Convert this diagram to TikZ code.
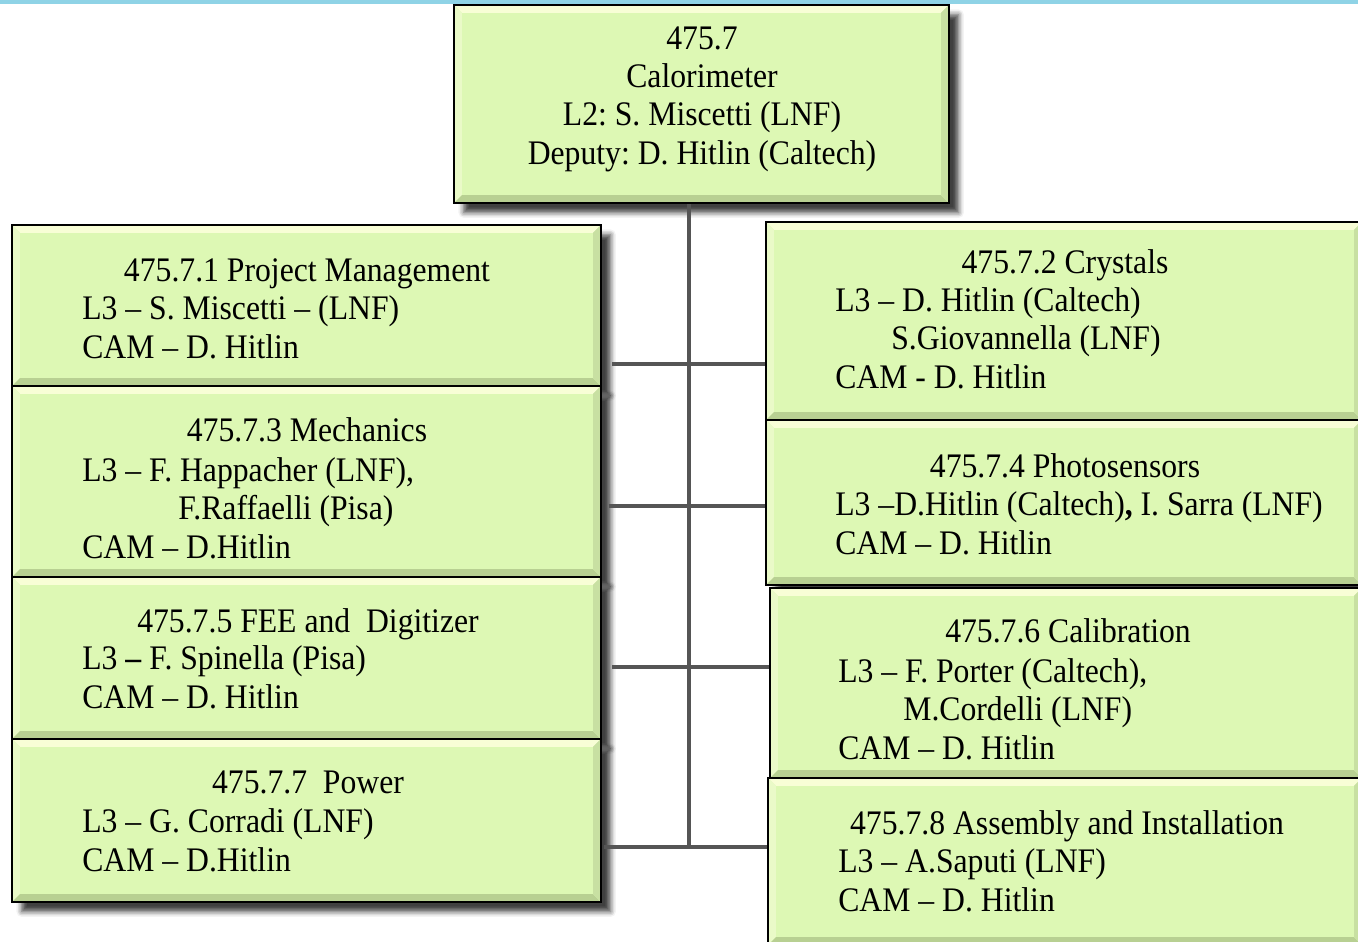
\documentclass[tikz,border=0pt]{standalone}
\usepackage{fontspec}
\setmainfont{Liberation Serif}[FakeStretch=0.92]
\usepackage{xcolor}
\usepackage{tikz}
\usetikzlibrary{shadows.blur}
\definecolor{wbsgreen}{RGB}{221,248,180}
\definecolor{bevlight}{RGB}{248,254,214}
\definecolor{bevleft}{RGB}{234,250,200}
\definecolor{bevdark}{RGB}{184,208,146}
\definecolor{bevright}{RGB}{200,224,162}
\definecolor{spinegray}{RGB}{85,85,85}
\definecolor{topblue}{RGB}{143,211,230}
\newcommand\wbsfont{\fontsize{19.6}{21.8}\selectfont}
\frenchspacing

\begin{document}
\begin{tikzpicture}[x=0.02cm,y=-0.02cm,font=\wbsfont,
  wbsbox/.style={draw=black,line width=1.6pt,fill=wbsgreen,
    blur shadow={shadow xshift=5.5pt,shadow yshift=-5.5pt,shadow blur radius=3pt,shadow opacity=75},
    path picture={
      \fill[bevlight] (path picture bounding box.north west) -- (path picture bounding box.north east)
        -- ([shift={(-4.5pt,-4.5pt)}]path picture bounding box.north east)
        -- ([shift={(4.5pt,-4.5pt)}]path picture bounding box.north west) -- cycle;
      \fill[bevleft] (path picture bounding box.north west) -- ([shift={(4.5pt,-4.5pt)}]path picture bounding box.north west)
        -- ([shift={(4.5pt,4.5pt)}]path picture bounding box.south west) -- (path picture bounding box.south west) -- cycle;
      \fill[bevdark] (path picture bounding box.south west) -- (path picture bounding box.south east)
        -- ([shift={(-4.5pt,4.5pt)}]path picture bounding box.south east)
        -- ([shift={(4.5pt,4.5pt)}]path picture bounding box.south west) -- cycle;
      \fill[bevright] (path picture bounding box.north east) -- (path picture bounding box.south east)
        -- ([shift={(-4.5pt,4.5pt)}]path picture bounding box.south east)
        -- ([shift={(-4.5pt,-4.5pt)}]path picture bounding box.north east) -- cycle;}},
  ttl/.style={anchor=base,inner sep=0pt},
  body/.style={anchor=base west,align=left,inner sep=0pt},
  conn/.style={draw=spinegray,line width=2.3pt}]
  % page frame, 1 unit = 1 px of the slide, y grows downward
  % multi-line nodes sit on the baseline of their LAST line
  \useasboundingbox (0,0) rectangle (1358,941);
  \clip (0,0) rectangle (1358,941);
  \fill[topblue] (0,0) rectangle (1358,3.5);

  % L2 box
  \node[wbsbox,minimum width=9.9cm,minimum height=3.96cm] (top) at (701.5,104) {};
  \node[ttl,align=center] (toptxt) at (702,164) {475.7\\Calorimeter\\L2: S. Miscetti (LNF)\\Deputy: D. Hitlin (Caltech)};

  % left column
  \node[wbsbox,minimum width=11.78cm,minimum height=3.22cm] (b1) at (306.5,305.5) {};
  \node[wbsbox,minimum width=11.78cm,minimum height=3.82cm] (b3) at (306.5,481.5) {};
  \node[wbsbox,minimum width=11.78cm,minimum height=3.24cm] (b5) at (306.5,658) {};
  \node[wbsbox,minimum width=11.78cm,minimum height=3.26cm] (b7) at (306.5,820.5) {};
  % right column
  \node[wbsbox,minimum width=11.92cm,minimum height=3.96cm] (b2) at (1064,321) {};
  \node[wbsbox,minimum width=11.92cm,minimum height=3.3cm] (b4) at (1064,502.5) {};
  \node[wbsbox,minimum width=11.84cm,minimum height=3.8cm] (b6) at (1066,683) {};
  \node[wbsbox,minimum width=11.88cm,minimum height=3.34cm] (b8) at (1065,861.5) {};

  % box texts
  \node[ttl] (b1t) at (307,281) {475.7.1 Project Management};
  \node[body] (b1x) at (82,358) {L3 – S. Miscetti – (LNF)\\CAM – D. Hitlin};
  \node[ttl] (b2t) at (1065,273) {475.7.2 Crystals};
  \node[body] (b2x) at (835,388) {L3 – D. Hitlin (Caltech)\\\hspace*{1.12cm}S.Giovannella (LNF)\\CAM - D. Hitlin};
  \node[ttl] (b3t) at (307,441) {475.7.3 Mechanics};
  \node[body] (b3x) at (82,558) {L3 – F. Happacher (LNF),\\\hspace*{1.92cm}F.Raffaelli (Pisa)\\CAM – D.Hitlin};
  \node[ttl] (b4t) at (1065,477) {475.7.4 Photosensors};
  \node[body] (b4x) at (835,554) {L3 –D.Hitlin (Caltech)\textbf{,} I. Sarra (LNF)\\CAM – D. Hitlin};
  \node[ttl] (b5t) at (308,632) {475.7.5 FEE and\ \ Digitizer};
  \node[body] (b5x) at (82,708) {L3 \textbf{–} F. Spinella (Pisa)\\CAM – D. Hitlin};
  \node[ttl] (b6t) at (1068,642) {475.7.6 Calibration};
  \node[body] (b6x) at (838,759) {L3 – F. Porter (Caltech),\\\hspace*{1.3cm}M.Cordelli (LNF)\\CAM – D. Hitlin};
  \node[ttl] (b7t) at (308,793) {475.7.7\ \ Power};
  \node[body] (b7x) at (82,871) {L3 – G. Corradi (LNF)\\CAM – D.Hitlin};
  \node[ttl] (b8t) at (1067,834) {475.7.8 Assembly and Installation};
  \node[body] (b8x) at (838,911) {L3 – A.Saputi (LNF)\\CAM – D. Hitlin};

  % spine and branches
  \coordinate (sp) at (689,203);
  \coordinate (j1) at (689,364);
  \coordinate (j2) at (689,506);
  \coordinate (j3) at (689,667);
  \coordinate (j4) at (689,847);
  \draw[conn] (top.south -| sp) -- (j4);
  \foreach \l/\r/\j/\d in {b1/b2/j1/5.5pt,b3/b4/j2/3.5pt,b5/b6/j3/5.5pt,b7/b8/j4/1pt}
    \draw[conn] ([xshift=\d]\l.east |- \j) -- (\r.west |- \j);
\end{tikzpicture}
\end{document}
